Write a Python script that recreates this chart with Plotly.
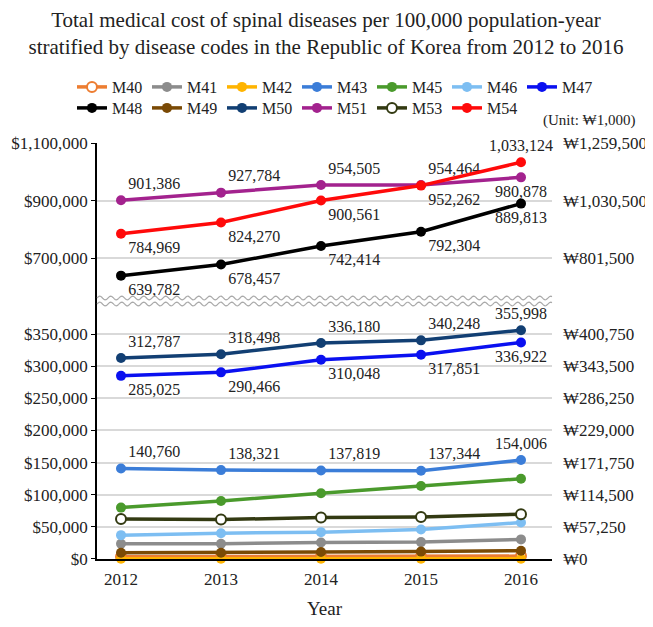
import numpy as np
import plotly.graph_objects as go

years = [2012, 2013, 2014, 2015, 2016]

M40 = [3500, 3500, 4000, 4000, 4500]
M41 = [23700, 23700, 25800, 26300, 30500]
M42 = [300, 300, 300, 300, 300]
M43 = [140760, 138321, 137819, 137344, 154006]
M45 = [80000, 90300, 102200, 113500, 124900]
M46 = [37150, 40200, 41800, 46000, 56800]
M47 = [285025, 290466, 310048, 317851, 336922]
M48 = [639782, 678457, 742414, 792304, 889813]
M49 = [9800, 9800, 11000, 11500, 12900]
M50 = [312787, 318498, 336180, 340248, 355998]
M51 = [901386, 927784, 954505, 954464, 980878]
M53 = [62400, 61400, 64500, 65500, 69700]
M54 = [784969, 824270, 900561, 952262, 1033124]

upper_ticks = [700000, 900000, 1100000]
upper_usd = ["$700,000", "$900,000", "$1,100,000"]
upper_won = ["₩801,500", "₩1,030,500", "₩1,259,500"]
lower_ticks = [0, 50000, 100000, 150000, 200000, 250000, 300000, 350000]
lower_usd = ["$0", "$50,000", "$100,000", "$150,000", "$200,000",
             "$250,000", "$300,000", "$350,000"]
lower_won = ["₩0", "₩57,250", "₩114,500", "₩171,750", "₩229,000",
             "₩286,250", "₩343,500", "₩400,750"]

SERIF = "Liberation Serif"
TXT = "#222222"

series = [
    ("M40", M40, "#ED7D31", True, "low", None),
    ("M41", M41, "#8C8C8C", False, "low", None),
    ("M42", M42, "#FFB400", False, "low", None),
    ("M43", M43, "#3B7DD8", False, "low", ["top right"] * 4 + ["top center"]),
    ("M45", M45, "#4A9A2C", False, "low", None),
    ("M46", M46, "#7DBEF2", False, "low", None),
    ("M47", M47, "#0A10F0", False, "low", ["bottom right"] * 4 + ["bottom center"]),
    ("M48", M48, "#000000", False, "up", ["bottom right"] * 4 + ["bottom center"]),
    ("M49", M49, "#7A4A05", False, "low", None),
    ("M50", M50, "#123F73", False, "low", ["top right"] * 4 + ["top center"]),
    ("M51", M51, "#A3228E", False, "up", ["top right"] * 4 + ["bottom center"]),
    ("M53", M53, "#333A12", True, "low", None),
    ("M54", M54, "#FF0A0A", False, "up", ["bottom right"] * 4 + ["top center"]),
]

fig = go.Figure()
for i, (name, vals, color, hollow, panel, pos) in enumerate(series):
    kw = dict(
        x=years, y=vals, name=name, mode="lines+markers" + ("+text" if pos else ""),
        line=dict(color=color, width=3.5),
        marker=dict(size=10, color="white" if hollow else color,
                    line=dict(color=color, width=2 if hollow else 0)),
        cliponaxis=False,
        legend="legend" if i < 7 else "legend2",
    )
    if pos:
        kw.update(texttemplate="%{y:,}", textposition=pos,
                  textfont=dict(family=SERIF, size=16, color=TXT))
    if panel == "up":
        kw.update(xaxis="x", yaxis="y")
    else:
        kw.update(xaxis="x2", yaxis="y2")
    fig.add_trace(go.Scatter(**kw))

# empty traces so the right-hand (KRW) axes get drawn
for ya, xa in (("y3", "x"), ("y4", "x2")):
    fig.add_trace(go.Scatter(x=[None], y=[None], xaxis=xa, yaxis=ya,
                             showlegend=False, hoverinfo="skip", mode="lines"))

split = 0.6202
xr = [2011.76, 2016.31]
up_rng = [551900, 1100000]
low_rng = [0, 401500]
axfont = dict(family=SERIF, size=17, color=TXT)


def wave(y0):
    xs = np.linspace(0, 1, 400)
    ys = y0 + 0.0045 * np.sin(xs * 455 / 11 * 2 * np.pi)
    return "M " + " L ".join(f"{a:.4f},{b:.4f}" for a, b in zip(xs, ys))


shapes = [
    dict(type="path", xref="paper", yref="paper", path=wave(y0),
         line=dict(color="#AAAAAA", width=1.2))
    for y0 in [(559 - 298) / 416, (559 - 304) / 416]
]

# the page adds an 8px body margin, so the figure is 8px smaller
fig.update_layout(
    width=645, height=619,
    margin=dict(l=89, r=101, t=135, b=68, autoexpand=False),
    paper_bgcolor="white", plot_bgcolor="white",
    font=dict(family=SERIF, color=TXT),
    title=dict(
        text="Total medical cost of spinal diseases per 100,000 population-year<br>"
             "stratified by disease codes in the Republic of Korea from 2012 to 2016",
        x=0.493, xanchor="center", y=0.969, yanchor="top",
        font=dict(family=SERIF, size=21, color=TXT),
    ),
    xaxis=dict(domain=[0, 1], anchor="y", range=xr, showticklabels=False,
               showgrid=False, showline=False, ticks="", zeroline=False),
    xaxis2=dict(domain=[0, 1], anchor="y2", range=xr, tickvals=years,
                showgrid=False, showline=True, linecolor="black", linewidth=1.5,
                ticks="", tickfont=axfont, zeroline=False, ticklabelstandoff=4,
                title=dict(text="Year", font=dict(family=SERIF, size=19, color=TXT),
                           standoff=14)),
    yaxis=dict(domain=[split, 1], anchor="x", range=up_rng,
               tickvals=upper_ticks, ticktext=upper_usd,
               showgrid=True, gridcolor="#D9D9D9", gridwidth=1.5,
               showline=True, linecolor="black", linewidth=1.5,
               ticks="outside", ticklen=4, tickcolor="black",
               tickfont=axfont, zeroline=False),
    yaxis2=dict(domain=[0, split], anchor="x2", range=low_rng,
                tickvals=lower_ticks, ticktext=lower_usd,
                showgrid=True, gridcolor="#D9D9D9", gridwidth=1.5,
                showline=True, linecolor="black", linewidth=1.5,
                ticks="outside", ticklen=4, tickcolor="black",
                tickfont=axfont, zeroline=False),
    yaxis3=dict(overlaying="y", side="right", anchor="x", range=up_rng,
                tickvals=upper_ticks, ticktext=upper_won, showgrid=False,
                showline=False, ticks="", ticklabelstandoff=10,
                tickfont=axfont, zeroline=False),
    yaxis4=dict(overlaying="y2", side="right", anchor="x2", range=low_rng,
                tickvals=lower_ticks, ticktext=lower_won, showgrid=False,
                showline=False, ticks="", ticklabelstandoff=10,
                tickfont=axfont, zeroline=False),
    legend=dict(orientation="h", x=-0.055, xanchor="left", y=1 + 56 / 416,
                yanchor="middle", entrywidth=30, bgcolor="rgba(0,0,0,0)",
                font=dict(family=SERIF, size=16, color=TXT)),
    legend2=dict(orientation="h", x=-0.055, xanchor="left", y=1 + 35 / 416,
                 yanchor="middle", entrywidth=30, bgcolor="rgba(0,0,0,0)",
                 font=dict(family=SERIF, size=16, color=TXT)),
    annotations=[dict(text="(Unit: ₩1,000)", xref="paper", yref="paper",
                      x=(637 - 97) / 455, y=1 + (143 - 120) / 416,
                      xanchor="right", yanchor="middle", showarrow=False,
                      font=dict(family=SERIF, size=15, color=TXT))],
    shapes=shapes,
    showlegend=True,
)

fig.write_html("out.html")
